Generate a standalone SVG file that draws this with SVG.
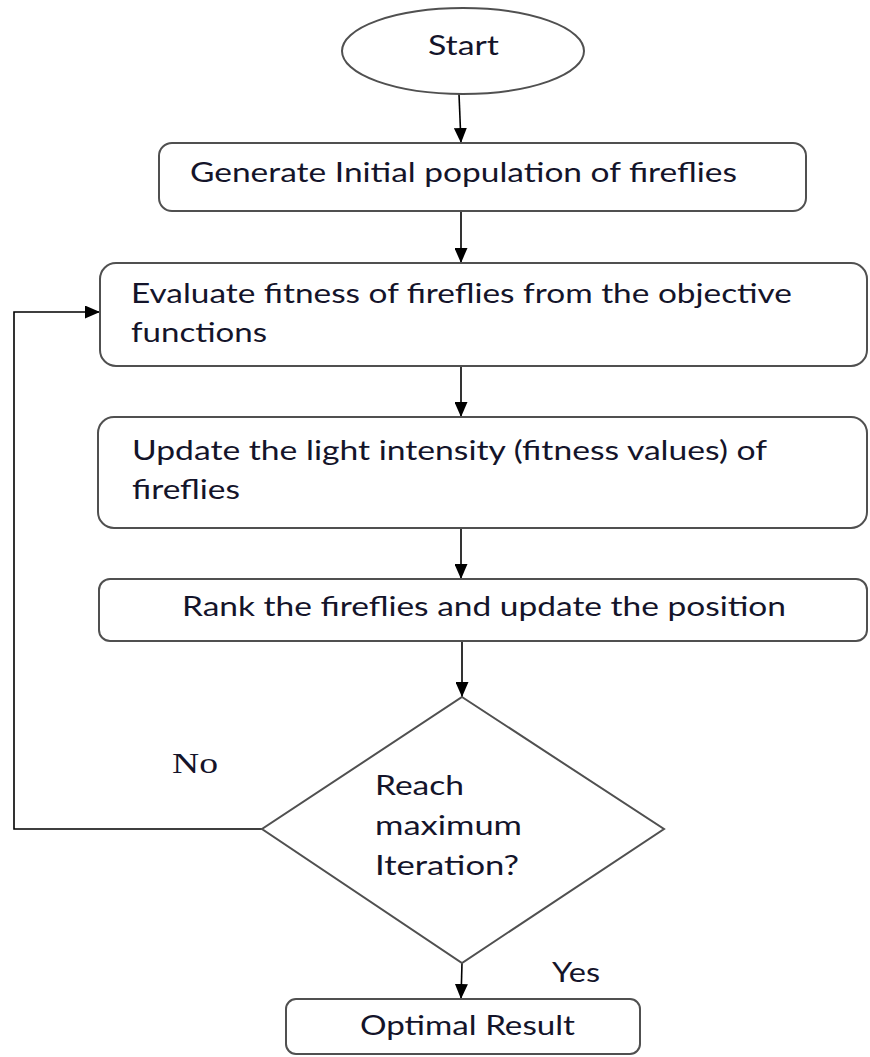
<svg xmlns="http://www.w3.org/2000/svg" width="870" height="1057" viewBox="0 0 870 1057">
<style>
.box{fill:#fff;stroke:#505050;stroke-width:2}
.t{font-family:Lato,"Liberation Sans",sans-serif;font-size:26px;fill:#14142a}
.s{font-family:"Liberation Serif",serif;font-size:30px;fill:#14142a}
.c{fill:none;stroke:#000;stroke-width:1.6}
</style>
<defs>
<marker id="ah" markerUnits="userSpaceOnUse" markerWidth="15" markerHeight="13" refX="15" refY="6.5" orient="auto">
<path d="M0,0 L15,6.5 L0,13 Z" fill="#000"/>
</marker>
</defs>
<rect width="870" height="1057" fill="#fff"/>
<g id="connectors">
<line class="c" x1="459" y1="94" x2="461" y2="143" marker-end="url(#ah)"/>
<line class="c" x1="461" y1="211" x2="461" y2="263" marker-end="url(#ah)"/>
<line class="c" x1="461" y1="366" x2="461" y2="417" marker-end="url(#ah)"/>
<line class="c" x1="461" y1="528" x2="461" y2="579" marker-end="url(#ah)"/>
<line class="c" x1="462" y1="641" x2="462" y2="697" marker-end="url(#ah)"/>
<line class="c" x1="462" y1="963" x2="461" y2="999" marker-end="url(#ah)"/>
<polyline class="c" points="262,829 14,829 14,312 100,312" marker-end="url(#ah)"/>
<text class="s" x="172" y="773" textLength="46" lengthAdjust="spacingAndGlyphs">No</text>
<text class="t" x="552" y="982" textLength="48" lengthAdjust="spacingAndGlyphs">Yes</text>
</g>
<g id="start">
<ellipse class="box" cx="463" cy="51" rx="121" ry="43"/>
<text class="t" x="428" y="55" textLength="71" lengthAdjust="spacingAndGlyphs">Start</text>
</g>
<g id="generate">
<rect class="box" x="159" y="143" width="647" height="68" rx="13"/>
<text class="t" x="190" y="182" textLength="547" lengthAdjust="spacingAndGlyphs">Generate Initial population of fireflies</text>
</g>
<g id="evaluate">
<rect class="box" x="100" y="263" width="767" height="103" rx="16"/>
<text class="t" x="131" y="303" textLength="661" lengthAdjust="spacingAndGlyphs">Evaluate fitness of fireflies from the objective</text>
<text class="t" x="131" y="342" textLength="136" lengthAdjust="spacingAndGlyphs">functions</text>
</g>
<g id="update">
<rect class="box" x="98" y="417" width="769" height="111" rx="16"/>
<text class="t" x="132" y="460" textLength="635" lengthAdjust="spacingAndGlyphs">Update the light intensity (fitness values) of</text>
<text class="t" x="132" y="499" textLength="108" lengthAdjust="spacingAndGlyphs">fireflies</text>
</g>
<g id="rank">
<rect class="box" x="99" y="579" width="768" height="62" rx="11"/>
<text class="t" x="182" y="616" textLength="604" lengthAdjust="spacingAndGlyphs">Rank the fireflies and update the position</text>
</g>
<g id="decision">
<polygon class="box" points="462,697 664,829 462,963 262,829"/>
<text class="t" x="375" y="795" textLength="89" lengthAdjust="spacingAndGlyphs">Reach</text>
<text class="t" x="375" y="835" textLength="147" lengthAdjust="spacingAndGlyphs">maximum</text>
<text class="t" x="375" y="875" textLength="144" lengthAdjust="spacingAndGlyphs">Iteration?</text>
</g>
<g id="result">
<rect class="box" x="286" y="999" width="354" height="55" rx="10"/>
<text class="t" x="360" y="1035" textLength="215" lengthAdjust="spacingAndGlyphs">Optimal Result</text>
</g>
</svg>
